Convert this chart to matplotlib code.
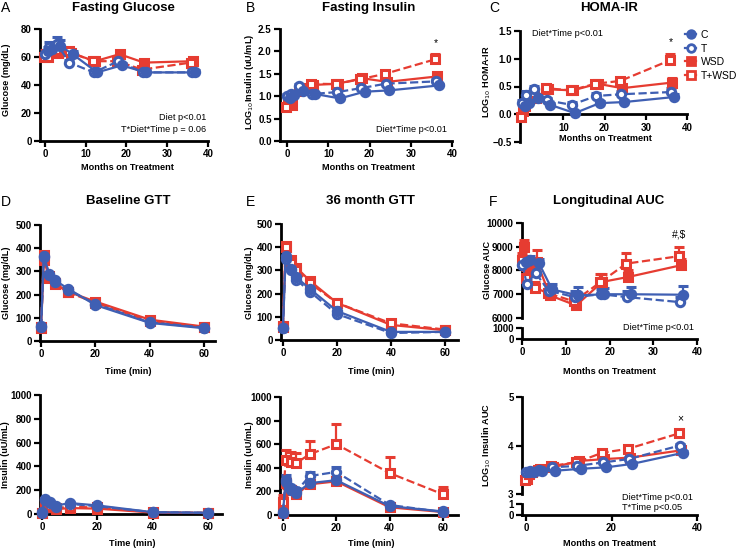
import matplotlib
matplotlib.use('Agg')
import matplotlib.pyplot as plt
from matplotlib.lines import Line2D
import numpy as np

plt.rcParams['font.family'] = ['Liberation Sans', 'DejaVu Sans']

W, H = 737, 550
fig = plt.figure(figsize=(W / 100, H / 100), dpi=100)

BLUE = '#3f5fb3'
RED = '#e63c31'

series = ['C', 'T', 'WSD', 'T+WSD']
months = [0, 1, 3, 6, 12, 18, 24, 36]
gtt_min = [0, 1, 3, 5, 10, 20, 40, 60]

# ---- A: fasting glucose (mg/dL)
fg = {
    'C': [64, 66, 68, 62, 49, 54, 49, 49],
    'T': [62, 67, 69, 56, 49, 57, 49, 49],
    'WSD': [62, 66, 63, 63, 57, 62, 56, 57],
    'T+WSD': [60, 60, 65, 64, 57, 57, 51, 56],
}
fg_err = {
    'C': [3, 3, 4, 2, 2, 2, 2, 2],
    'T': [3, 4, 5, 2, 2, 2, 2, 2],
    'WSD': [3, 3, 2, 2, 2, 2, 2, 2],
    'T+WSD': [2, 2, 2, 2, 2, 2, 2, 2],
}
# ---- B: fasting insulin LOG10 (uU/mL)
fi = {
    'C': [0.96, 1.02, 1.12, 1.05, 0.95, 1.10, 1.13, 1.24],
    'T': [1.00, 1.05, 1.22, 1.05, 1.09, 1.18, 1.28, 1.33],
    'WSD': [0.95, 0.80, 1.18, 1.25, 1.28, 1.40, 1.32, 1.44],
    'T+WSD': [0.76, 0.97, 1.12, 1.28, 1.27, 1.38, 1.50, 1.82],
}
fi_err = {
    'C': [0.04, 0.04, 0.05, 0.03, 0.03, 0.03, 0.03, 0.03],
    'T': [0.04, 0.04, 0.05, 0.04, 0.04, 0.04, 0.04, 0.05],
    'WSD': [0.04, 0.05, 0.04, 0.04, 0.04, 0.04, 0.04, 0.05],
    'T+WSD': [0.05, 0.05, 0.04, 0.04, 0.04, 0.05, 0.05, 0.12],
}
# ---- C: HOMA-IR LOG10
homa = {
    'C': [0.15, 0.20, 0.30, 0.17, 0.02, 0.20, 0.22, 0.31],
    'T': [0.20, 0.35, 0.45, 0.25, 0.17, 0.33, 0.36, 0.40],
    'WSD': [0.05, 0.30, 0.30, 0.45, 0.43, 0.55, 0.47, 0.57],
    'T+WSD': [-0.05, 0.15, 0.38, 0.47, 0.43, 0.55, 0.60, 0.97],
}
homa_err = {
    'C': [0.05, 0.05, 0.06, 0.04, 0.04, 0.04, 0.04, 0.05],
    'T': [0.05, 0.06, 0.06, 0.05, 0.05, 0.05, 0.05, 0.08],
    'WSD': [0.05, 0.05, 0.05, 0.05, 0.04, 0.05, 0.05, 0.08],
    'T+WSD': [0.05, 0.05, 0.05, 0.05, 0.05, 0.05, 0.06, 0.12],
}
# ---- D: baseline GTT glucose
gtt0_g = {
    'C': [65, 365, 290, 262, 225, 155, 78, 55],
    'T': [60, 360, 285, 255, 220, 160, 80, 58],
    'WSD': [55, 350, 272, 245, 212, 170, 92, 62],
    'T+WSD': [60, 370, 280, 250, 210, 165, 85, 60],
}
# ---- E: 36 month GTT glucose
gtt36_g = {
    'C': [50, 360, 305, 270, 220, 125, 35, 35],
    'T': [50, 350, 300, 260, 208, 112, 30, 35],
    'WSD': [55, 405, 345, 312, 255, 160, 65, 42],
    'T+WSD': [60, 400, 330, 300, 245, 160, 72, 45],
}
# ---- F: glucose AUC
gauc = {
    'C': [8350, 8450, 8300, 7200, 6950, 7000, 7000, 6980],
    'T': [8250, 7420, 7900, 7150, 6880, 7000, 6880, 6670],
    'WSD': [8990, 7940, 8360, 6950, 6530, 7520, 7730, 8220],
    'T+WSD': [8430, 7700, 7280, 7050, 6700, 7500, 8290, 8600],
}
gauc_err = {
    'C': [250, 150, 200, 250, 350, 250, 300, 350],
    'T': [200, 200, 250, 200, 250, 200, 250, 200],
    'WSD': [300, 300, 500, 300, 300, 350, 300, 250],
    'T+WSD': [300, 300, 250, 400, 300, 350, 450, 400],
}
# ---- bottom D: baseline GTT insulin
gtt0_i = {
    'C': [10, 130, 100, 70, 92, 72, 15, 10],
    'T': [15, 120, 90, 60, 85, 65, 15, 10],
    'WSD': [8, 90, 60, 40, 50, 45, 12, 8],
    'T+WSD': [10, 100, 70, 50, 60, 55, 15, 10],
}
# ---- bottom E: 36 month GTT insulin
gtt36_i = {
    'C': [20, 280, 225, 185, 270, 295, 75, 30],
    'T': [25, 300, 215, 200, 330, 365, 85, 25],
    'WSD': [15, 270, 210, 175, 260, 285, 65, 25],
    'T+WSD': [110, 465, 445, 440, 515, 600, 355, 175],
}
gtt36_i_err = {
    'C': [5, 30, 25, 20, 25, 30, 15, 5],
    'T': [5, 35, 30, 25, 35, 40, 20, 5],
    'WSD': [5, 30, 25, 20, 25, 30, 15, 5],
    'T+WSD': [60, 85, 85, 85, 115, 170, 135, 65],
}
# ---- bottom F: LOG10 insulin AUC
iauc = {
    'C': [3.45, 3.45, 3.47, 3.48, 3.52, 3.55, 3.62, 3.85],
    'T': [3.45, 3.48, 3.50, 3.55, 3.58, 3.65, 3.72, 4.00],
    'WSD': [3.30, 3.45, 3.52, 3.55, 3.68, 3.72, 3.75, 3.90],
    'T+WSD': [3.28, 3.42, 3.50, 3.58, 3.65, 3.85, 3.93, 4.25],
}
iauc_err = {
    'C': [0.03, 0.03, 0.03, 0.03, 0.03, 0.03, 0.03, 0.04],
    'T': [0.03, 0.03, 0.03, 0.03, 0.03, 0.03, 0.04, 0.04],
    'WSD': [0.03, 0.03, 0.03, 0.03, 0.03, 0.03, 0.04, 0.04],
    'T+WSD': [0.03, 0.03, 0.03, 0.03, 0.04, 0.04, 0.05, 0.06],
}

STYLE = {
    'C': dict(color=BLUE, ls='-', marker='o', mfc=BLUE, dx=0.8),
    'T': dict(color=BLUE, ls='--', marker='o', mfc='white', dx=0.0),
    'WSD': dict(color=RED, ls='-', marker='s', mfc=RED, dx=0.3),
    'T+WSD': dict(color=RED, ls='--', marker='s', mfc='white', dx=-0.2),
}
DRAW_ORDER = ['WSD', 'T+WSD', 'T', 'C']
MS = 6.0
MEW = 2.2


def add_ax(l, t, r, b):
    return fig.add_axes([l / W, 1 - b / H, (r - l) / W, (b - t) / H])


def style_ax(ax, bottom=True):
    for s in ['top', 'right']:
        ax.spines[s].set_visible(False)
    ax.spines['left'].set_linewidth(2.0)
    ax.spines['bottom'].set_linewidth(2.0)
    if not bottom:
        ax.spines['bottom'].set_visible(False)
        ax.tick_params(axis='x', bottom=False, labelbottom=False)
    ax.tick_params(width=1.6, length=4, labelsize=7, pad=2)
    for lab in ax.get_xticklabels() + ax.get_yticklabels():
        lab.set_fontweight('bold')
    ax.patch.set_alpha(0)


def plot_all(ax, x, data, err=None, jitter=True):
    for name in DRAW_ORDER:
        st = STYLE[name]
        xx = np.array(x, dtype=float) + (st['dx'] if jitter else 0.0)
        vals = np.array(data[name], dtype=float)
        e = np.array(err[name], dtype=float) if err is not None else np.zeros(len(vals))
        cont = ax.errorbar(xx, vals, yerr=[np.zeros(len(vals)), e],
                           color=st['color'], ls=st['ls'], lw=1.6,
                           marker=st['marker'], ms=MS, mfc=st['mfc'],
                           mec=st['color'], mew=MEW, capsize=3.5,
                           capthick=1.6, elinewidth=1.6, zorder=3)
        for child in cont.get_children():
            child.set_clip_on(False)


def ftext(x, y, s, **kw):
    fig.text(x / W, 1 - y / H, s, **kw)


BOLD = dict(fontweight='bold', fontsize=6.6)
NOTE = dict(fontsize=6.6)

# ================= A =================
axA = add_ax(40, 29, 208, 141)
plot_all(axA, months, fg, fg_err)
axA.set_xlim(-1.2, 40)
axA.set_ylim(0, 80)
axA.set_xticks([0, 10, 20, 30, 40])
axA.set_yticks([0, 20, 40, 60, 80])
style_ax(axA)
ftext(206, 118, 'Diet p<0.01', ha='right', va='center', **NOTE)
ftext(206, 129, 'T*Diet*Time p = 0.06', ha='right', va='center', **NOTE)
ftext(127, 168, 'Months on Treatment', ha='center', va='center', **BOLD)
ftext(7, 80, 'Glucose (mg/dL)', ha='center', va='center', rotation=90, **BOLD)

# ================= B =================
axB = add_ax(280, 29, 452, 141)
plot_all(axB, months, fi, fi_err)
axB.set_xlim(-1.7, 40)
axB.set_ylim(0, 2.5)
axB.set_xticks([0, 10, 20, 30, 40])
axB.set_yticks([0, 0.5, 1.0, 1.5, 2.0, 2.5])
axB.set_yticklabels(['0.0', '0.5', '1.0', '1.5', '2.0', '2.5'])
style_ax(axB)
axB.text(36, 2.18, '*', ha='center', va='center', fontsize=7.5)
ftext(447, 129, 'Diet*Time p<0.01', ha='right', va='center', **NOTE)
ftext(368, 168, 'Months on Treatment', ha='center', va='center', **BOLD)
ftext(250, 82, r'LOG$_{10}$Insulin (uU/mL)', ha='center', va='center', rotation=90, **BOLD)

# ================= C =================
axC = add_ax(520, 31, 687, 142)
plot_all(axC, months, homa, homa_err)
axC.set_xlim(-0.5, 40)
axC.set_ylim(-0.5, 1.5)
axC.spines['bottom'].set_position(('data', 0))
axC.set_xticks([10, 20, 30, 40])
axC.set_yticks([-0.5, 0, 0.5, 1.0, 1.5])
axC.set_yticklabels(['\u22120.5', '0.0', '0.5', '1.0', '1.5'])
style_ax(axC)
axC.text(36, 1.3, '*', ha='center', va='center', fontsize=7.5)
ftext(532, 34, 'Diet*Time p<0.01', ha='left', va='center', **NOTE)
ftext(605, 138, 'Months on Treatment', ha='center', va='center', **BOLD)
ftext(487, 82, r'LOG$_{10}$ HOMA-IR', ha='center', va='center', rotation=90, **BOLD)

handles = [Line2D([0], [0], color=STYLE[n]['color'], ls='-', lw=1.6,
                  marker=STYLE[n]['marker'], ms=5.5, mfc=STYLE[n]['mfc'],
                  mec=STYLE[n]['color'], mew=2.0) for n in series]
axC.legend(handles, series, loc='upper left', bbox_to_anchor=(685 / W, 1 - 30 / H),
           bbox_transform=fig.transFigure, frameon=False, fontsize=7.5,
           handlelength=1.1, handleheight=0.8, labelspacing=0.35, handletextpad=0.4,
           borderaxespad=0, borderpad=0)

# ================= D =================
axD = add_ax(40, 225, 215, 341)
plot_all(axD, gtt_min, gtt0_g, jitter=False)
axD.set_xlim(-0.4, 64)
axD.set_ylim(0, 500)
axD.set_xticks([0, 20, 40, 60])
axD.set_yticks([0, 100, 200, 300, 400, 500])
style_ax(axD)
ftext(128, 372, 'Time (min)', ha='center', va='center', **BOLD)
ftext(7, 283, 'Glucose (mg/dL)', ha='center', va='center', rotation=90, **BOLD)

# ================= E =================
axE = add_ax(281, 224, 458, 340)
plot_all(axE, gtt_min, gtt36_g, jitter=False)
axE.set_xlim(-0.7, 64.8)
axE.set_ylim(0, 500)
axE.set_xticks([0, 20, 40, 60])
axE.set_yticks([0, 100, 200, 300, 400, 500])
style_ax(axE)
ftext(371, 372, 'Time (min)', ha='center', va='center', **BOLD)
ftext(250, 283, 'Glucose (mg/dL)', ha='center', va='center', rotation=90, **BOLD)

# ================= F top (broken axis) =================
axFu = add_ax(522, 223, 697, 318)
axFl = add_ax(522, 328, 697, 339)
plot_all(axFu, months, gauc, gauc_err)
for a in (axFu, axFl):
    a.set_xlim(-0.1, 40)
axFu.set_ylim(6000, 10000)
axFu.set_yticks([6000, 7000, 8000, 9000, 10000])
axFl.set_ylim(0, 1000)
axFl.set_yticks([0, 1000])
axFl.set_xticks([0, 10, 20, 30, 40])
style_ax(axFu, bottom=False)
style_ax(axFl)
axFu.text(36, 9500, '#,$', ha='center', va='center', fontsize=7.5)
ftext(694, 328, 'Diet*Time p<0.01', ha='right', va='center', **NOTE)
ftext(609, 372, 'Months on Treatment', ha='center', va='center', **BOLD)
ftext(487, 270, 'Glucose AUC', ha='center', va='center', rotation=90, **BOLD)

# ================= bottom D =================
axG = add_ax(40, 395, 222, 514)
plot_all(axG, gtt_min, gtt0_i, jitter=False)
axG.set_xlim(-0.7, 65)
axG.set_ylim(0, 1000)
axG.set_xticks([0, 20, 40, 60])
axG.set_yticks([0, 200, 400, 600, 800, 1000])
style_ax(axG)
ftext(132, 544, 'Time (min)', ha='center', va='center', **BOLD)
ftext(6, 455, 'Insulin (uU/mL)', ha='center', va='center', rotation=90, **BOLD)

# ================= bottom E =================
axI = add_ax(280, 397, 458, 515)
plot_all(axI, gtt_min, gtt36_i, gtt36_i_err, jitter=False)
axI.set_xlim(-1.1, 65.6)
axI.set_ylim(0, 1000)
axI.set_xticks([0, 20, 40, 60])
axI.set_yticks([0, 200, 400, 600, 800, 1000])
style_ax(axI)
ftext(371, 543, 'Time (min)', ha='center', va='center', **BOLD)
ftext(250, 455, 'Insulin (uU/mL)', ha='center', va='center', rotation=90, **BOLD)

# ================= bottom F (broken axis) =================
axJu = add_ax(522, 397, 697, 494)
axJl = add_ax(522, 504, 697, 515)
plot_all(axJu, months, iauc, iauc_err)
for a in (axJu, axJl):
    a.set_xlim(-0.94, 40)
axJu.set_ylim(3, 5)
axJu.set_yticks([3, 4, 5])
axJl.set_ylim(0, 1)
axJl.set_yticks([0, 1])
axJl.set_xticks([0, 20, 40])
style_ax(axJu, bottom=False)
style_ax(axJl)
axJu.text(36, 4.57, '\u00d7', ha='center', va='center', fontsize=7.5)
ftext(622, 497, 'Diet*Time p<0.01', ha='left', va='center', **NOTE)
ftext(622, 508, 'T*Time p<0.05', ha='left', va='center', **NOTE)
ftext(609, 543, 'Months on Treatment', ha='center', va='center', **BOLD)
ftext(487, 445, r'LOG$_{10}$ Insulin AUC', ha='center', va='center', rotation=90, **BOLD)

# ================= titles / panel letters =================
TITLE = dict(fontweight='bold', fontsize=9.5, ha='center', va='center')
ftext(123, 8, 'Fasting Glucose', **TITLE)
ftext(369, 8, 'Fasting Insulin', **TITLE)
ftext(609, 8, 'HOMA-IR', **TITLE)
ftext(128, 201, 'Baseline GTT', **TITLE)
ftext(370, 201, '36 month GTT', **TITLE)
ftext(609, 201, 'Longitudinal AUC', **TITLE)

LET = dict(fontsize=10, ha='left', va='center')
ftext(1, 8, 'A', **LET)
ftext(246, 8, 'B', **LET)
ftext(489, 8, 'C', **LET)
ftext(1, 202, 'D', **LET)
ftext(246, 202, 'E', **LET)
ftext(489, 202, 'F', **LET)

fig.savefig('out.png', dpi=100)
